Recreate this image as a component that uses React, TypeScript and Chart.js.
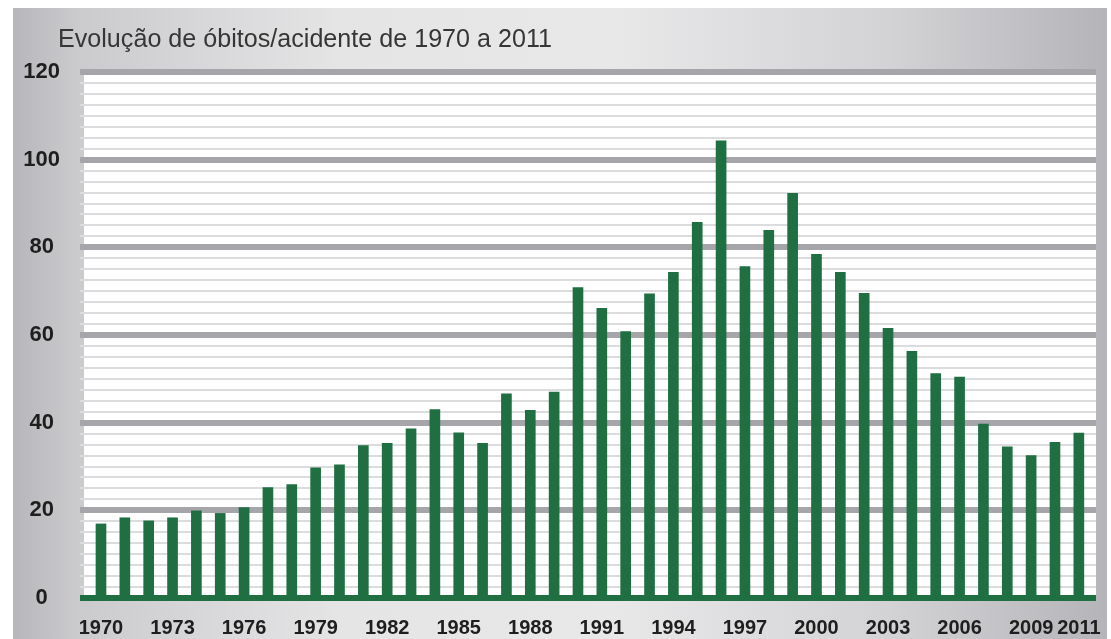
import React, { useEffect, useRef } from "react";
import { Chart, registerables } from "chart.js";

Chart.register(...registerables);

const TITLE = "Evolução de óbitos/acidente de 1970 a 2011";
const YEARS = [
  1970, 1971, 1972, 1973, 1974, 1975, 1976, 1977, 1978, 1979,
  1980, 1981, 1982, 1983, 1984, 1985, 1986, 1987, 1988, 1989,
  1990, 1991, 1992, 1993, 1994, 1995, 1996, 1997, 1998, 1999,
  2000, 2001, 2002, 2003, 2004, 2005, 2006, 2007, 2008, 2009,
  2010, 2011,
];
const DEATHS = [
  16.9, 18.3, 17.6, 18.3, 19.9, 19.3, 20.6, 25.2, 25.9, 29.7,
  30.4, 34.8, 35.3, 38.6, 43.0, 37.7, 35.3, 46.6, 42.8, 47.0,
  70.8, 66.1, 60.8, 69.4, 74.3, 85.7, 104.3, 75.6, 83.9, 92.3,
  78.4, 74.3, 69.5, 61.5, 56.3, 51.2, 50.4, 39.7, 34.5, 32.5,
  35.5, 37.6,
];
const X_TICK_LABELS = [
  1970, 1973, 1976, 1979, 1982, 1985, 1988, 1991, 1994, 1997,
  2000, 2003, 2006, 2009, 2011,
];
const Y_MAJOR_TICKS = [0, 20, 40, 60, 80, 100, 120];

const W = 1111;
const H = 639;

const backgroundPlugin = {
  id: "bgPanel",
  beforeDraw(chart: any) {
    const { ctx, chartArea } = chart;
    ctx.save();
    ctx.fillStyle = "#ffffff";
    ctx.fillRect(0, 0, W, H);
    const g = ctx.createLinearGradient(13, 0, 1107, 0);
    g.addColorStop(0, "#b7b7bb");
    g.addColorStop(0.06, "#cbcbce");
    g.addColorStop(0.3, "#e5e5e6");
    g.addColorStop(0.55, "#e8e8e9");
    g.addColorStop(0.8, "#d3d3d6");
    g.addColorStop(1, "#b5b5b9");
    ctx.fillStyle = g;
    ctx.fillRect(13, 8, 1094, H - 8);
    ctx.fillStyle = "#ffffff";
    ctx.fillRect(chartArea.left + 4, chartArea.top, chartArea.right - chartArea.left - 4, chartArea.bottom - chartArea.top);
    ctx.restore();
  },
  afterDraw(chart: any) {
    const { ctx } = chart;
    ctx.save();
    ctx.font = "normal 26px 'Liberation Sans', Arial, sans-serif";
    ctx.fillStyle = "#363636";
    ctx.textBaseline = "alphabetic";
    ctx.textAlign = "left";
    const target = 494;
    const w = ctx.measureText(TITLE).width;
    const sx = target / w;
    ctx.translate(58, 47);
    ctx.scale(sx, 1);
    ctx.fillText(TITLE, 0, 0);
    ctx.restore();
  },
};

export default function App() {
  const ref = useRef<HTMLCanvasElement>(null);
  useEffect(() => {
    if (!ref.current) return;
    const data = YEARS.map((y, i) => ({ x: y, y: DEATHS[i] }));
    const chart = new Chart(ref.current, {
      type: "bar",
      data: {
        datasets: [
          {
            data,
            backgroundColor: "#1f6f42",
            borderWidth: 0,
            barThickness: 10,
          },
        ],
      },
      options: {
        animation: false,
        responsive: false,
        layout: { padding: { top: 72, right: 15, left: 0, bottom: 0 } },
        plugins: {
          legend: { display: false },
          tooltip: { enabled: false },
          title: { display: false },
        },
        scales: {
          x: {
            type: "linear",
            offset: false,
            min: 1969.12,
            max: 2011.72,
            grid: { display: false, offset: false },
            border: { display: false },
            afterFit: (s: any) => {
              s.height = 41;
            },
            ticks: {
              stepSize: 1,
              autoSkip: false,
              includeBounds: false,
              maxRotation: 0,
              minRotation: 0,
              padding: 10,
              color: "#1e1e1e",
              font: { family: "'Liberation Sans', Arial, sans-serif", size: 20, weight: "bold" },
              callback: (v: any) => (X_TICK_LABELS.includes(Number(v)) ? String(v) : ""),
            },
          },
          y: {
            min: 0,
            max: 120,
            border: { display: false },
            afterFit: (s: any) => {
              s.width = 80;
            },
            grid: {
              drawTicks: false,
              color: (c: any) => {
                const v = c.tick ? c.tick.value : 0;
                if (v === 0) return "#1f6f42";
                if (Y_MAJOR_TICKS.includes(v)) return "#a5a5aa";
                return "#dcdcde";
              },
              lineWidth: (c: any) => {
                const v = c.tick ? c.tick.value : 0;
                if (v === 0) return 6;
                if (Y_MAJOR_TICKS.includes(v)) return 6;
                return 2;
              },
            },
            ticks: {
              stepSize: 2.5,
              autoSkip: false,
              padding: 20,
              crossAlign: "center",
              color: "#1e1e1e",
              font: { family: "'Liberation Sans', Arial, sans-serif", size: 22, weight: "bold" },
              callback: (v: any) => (Y_MAJOR_TICKS.includes(Number(v)) ? String(v) : ""),
            },
          },
        },
      },
      plugins: [backgroundPlugin],
    });
    return () => chart.destroy();
  }, []);
  return (
    <div style={{ position: "absolute", left: 0, top: 0, width: W, height: H }}>
      <canvas ref={ref} width={W} height={H} style={{ width: W, height: H, display: "block" }} />
    </div>
  );
}
